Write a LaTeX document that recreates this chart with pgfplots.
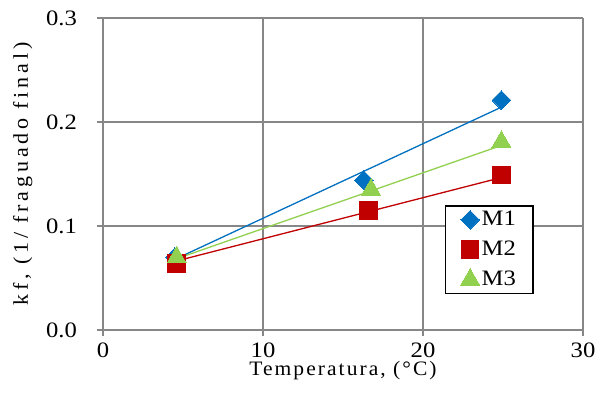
\documentclass[border=0pt]{standalone}
\usepackage{pgfplots}
\pgfplotsset{compat=1.18}
\usepackage{fontspec}
\setmainfont{Liberation Serif}[FakeStretch=1.12]
\newfontfamily\xlabfont{Liberation Serif}[FakeStretch=1.05, LetterSpace=10]
\newfontfamily\ylabfont{Liberation Serif}[FakeStretch=1.05, LetterSpace=18]
\definecolor{gridc}{HTML}{878787}
\definecolor{cM1}{HTML}{0070C0}
\definecolor{cM2}{HTML}{C00000}
\definecolor{cM3}{HTML}{92D050}
\begin{document}
\fontsize{22}{26}\selectfont
\begin{tikzpicture}
\begin{axis}[
  at={(0,0)}, anchor=south west,
  width=480pt, height=312pt, scale only axis,
  xmin=0, xmax=30, ymin=0, ymax=0.3,
  xtick={0,10,20,30}, ytick={0,0.1,0.2,0.3},
  axis lines=left, axis line style={gridc, line width=1.3pt, -},
  grid=major, major grid style={gridc, line width=1.3pt},
  tick style={gridc, line width=1.3pt},
  major tick length=11pt, tick align=center,
  /pgf/number format/assume math mode=true,
  yticklabel style={/pgf/number format/fixed, /pgf/number format/fixed zerofill, /pgf/number format/precision=1, xshift=-13pt},
  ticklabel style={font=\fontsize{22}{26}\selectfont},
  xticklabel style={yshift=0pt},
  xlabel={\xlabfont\fontsize{20.5}{24}\selectfont Temperatura, (°C)},
  xlabel style={yshift=11pt},
  ylabel={\ylabfont\fontsize{21}{25}\selectfont kf, (1/ fraguado final)},
  ylabel style={yshift=-1pt},
  legend style={at={(0.7125,0.40)}, anchor=north west, draw=black, line width=1.3pt,
    font=\fontsize{22}{26}\selectfont, row sep=8pt, inner xsep=15pt, inner ysep=3pt},
  legend cell align=left,
  legend image code/.code={\draw[#1] plot coordinates {(0.3cm,0cm)};},
  clip=false,
]
% trend lines
\addplot[cM1, line width=1.3pt, forget plot] coordinates {(4.5,0.068) (25,0.215)};
\addplot[cM3, line width=1.3pt, forget plot] coordinates {(4.5,0.068) (25,0.178)};
\addplot[cM2, line width=1.3pt, forget plot] coordinates {(4.5,0.066) (25,0.147)};
% data
\addplot[only marks, mark=square*, mark size=6.6pt, mark options={rotate=45, fill=cM1, draw=cM1, line width=0pt}]
  coordinates {(4.5,0.070) (16.3,0.144) (24.9,0.221)};
\addlegendentry{M1}
\addplot[only marks, mark=square*, mark size=8.8pt, mark options={fill=cM2, draw=cM2, line width=0pt}]
  coordinates {(4.6,0.064) (16.6,0.115) (24.9,0.149)};
\addlegendentry{M2}
\addplot[only marks, mark=triangle*, mark size=11pt, mark options={fill=cM3, draw=cM3, line width=0pt}]
  coordinates {(4.6,0.070) (16.75,0.135) (24.9,0.181)};
\addlegendentry{M3}
\end{axis}
\useasboundingbox (-103pt,-70pt) rectangle (504pt,330pt);
\end{tikzpicture}
\end{document}
